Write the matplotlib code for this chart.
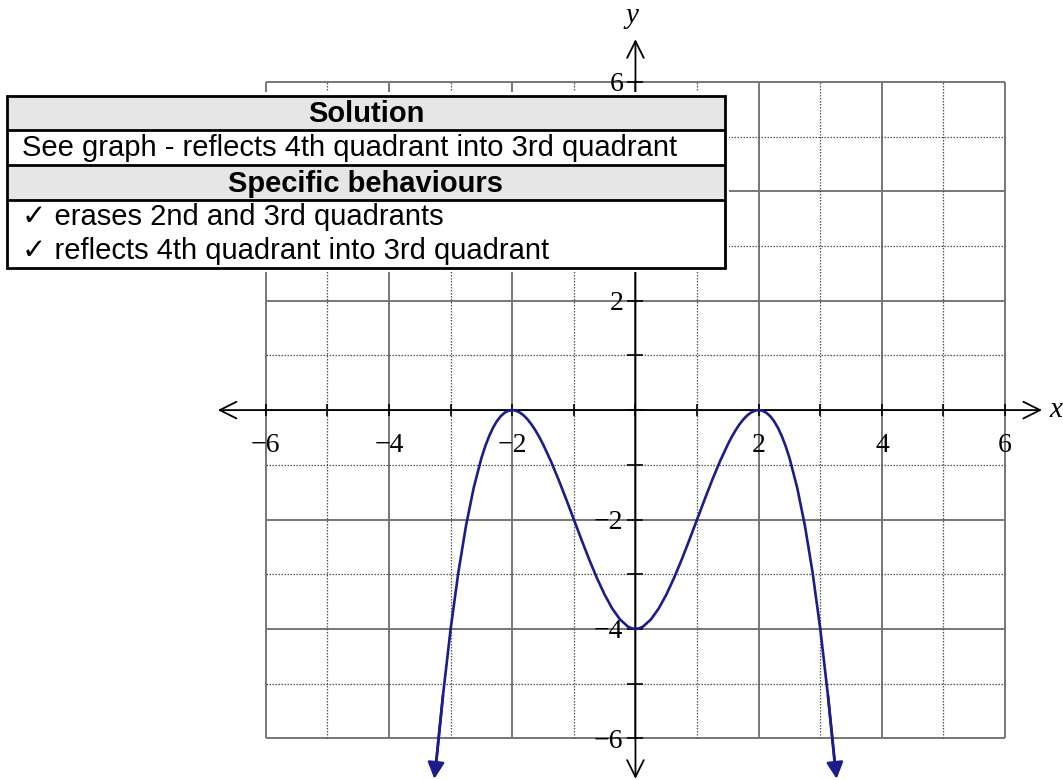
import numpy as np
import matplotlib
matplotlib.use("Agg")
import matplotlib.pyplot as plt
from matplotlib.patches import Rectangle

# Curve for x >= 0 (4th/1st quadrant part); the x < 0 half is its mirror image
curve_x = [0, 0.0625, 0.125, 0.25, 0.375, 0.5, 0.625, 0.75, 0.875, 1.0, 1.125, 1.25,
           1.375, 1.5, 1.5625, 1.625, 1.6875, 1.75, 1.8125, 1.875, 1.9375, 2.0,
           2.0625, 2.125, 2.1875, 2.25, 2.3125, 2.375, 2.4375, 2.5, 2.625, 2.75,
           2.875, 3.0, 3.125, 3.25]
curve_y = [-4.0, -3.989, -3.955, -3.828, -3.631, -3.375, -3.072, -2.734, -2.373,
           -2.0, -1.627, -1.266, -0.928, -0.625, -0.490, -0.369, -0.262, -0.172,
           -0.099, -0.045, -0.012, 0.0, -0.012, -0.049, -0.112, -0.203, -0.323,
           -0.475, -0.658, -0.875, -1.416, -2.109, -2.967, -4.0, -5.221, -6.641]

grid_major = [-6, -4, -2, 0, 2, 4, 6]
grid_minor = [-5, -3, -1, 1, 3, 5]
x_ticklabels = [-6, -4, -2, 2, 4, 6]
y_ticklabels = [6, 2, -2, -4, -6]

table_title = "Solution"
table_answer = "See graph - reflects 4th quadrant into 3rd quadrant"
table_subtitle = "Specific behaviours"
table_marks = ["erases 2nd and 3rd quadrants",
               "reflects 4th quadrant into 3rd quadrant"]

W, H = 1063, 780
fig = plt.figure(figsize=(W / 100, H / 100), dpi=100)
ax = fig.add_axes([0, 0, 1, 1])
ax.set_xlim(-10.315, 6.94)
ax.set_ylim(-6.762, 7.497)
ax.axis("off")

# grid: solid on even units, dotted on odd units
ax.vlines(grid_major, -6, 6, colors="#777777", lw=1.4, zorder=1)
ax.hlines(grid_major, -6, 6, colors="#777777", lw=1.4, zorder=1)
ax.vlines(grid_minor, -6, 6, colors="#505050", lw=0.9, linestyles=(0, (1.2, 1.2)), zorder=1)
ax.hlines(grid_minor, -6, 6, colors="#505050", lw=0.9, linestyles=(0, (1.2, 1.2)), zorder=1)

# axes with open arrowheads
arrow = dict(arrowstyle="<->, head_length=0.6, head_width=0.3", color="black",
             lw=1.3, mutation_scale=20, shrinkA=0, shrinkB=0)
ax.annotate("", xy=(6.6, 0), xytext=(-6.78, 0), arrowprops=arrow, zorder=3)
ax.annotate("", xy=(0, 6.78), xytext=(0, -6.74), arrowprops=arrow, zorder=3)

ticks = np.arange(-6, 7)
ax.vlines(ticks, -0.11, 0.11, colors="black", lw=1.2, zorder=3)
ax.hlines(ticks, -0.13, 0.13, colors="black", lw=1.2, zorder=3)

serif = ["Liberation Serif", "DejaVu Serif"]
for v in x_ticklabels:
    ax.text(v, -0.64, f"{v}".replace("-", "\u2212"), ha="center", va="center",
            fontsize=20, family=serif, zorder=4)
for v in y_ticklabels:
    ax.text(-0.2, v - 0.05, f"{v}".replace("-", "\u2212"), ha="right", va="center",
            fontsize=20, family=serif, zorder=4)
ax.text(6.72, 0, "x", ha="left", va="center", fontsize=21, family=serif,
        style="italic", zorder=4)
ax.text(-0.06, 7.2, "y", ha="center", va="center", fontsize=21, family=serif,
        style="italic", zorder=4)

# the function, right half and its reflection
xr = np.array(curve_x)
yr = np.array(curve_y)
blue = "#1c1c8c"
ax.plot(xr, yr, color=blue, lw=1.9, zorder=5, solid_joinstyle="round")
ax.plot(-xr, yr, color=blue, lw=1.9, zorder=5, solid_joinstyle="round")
head = dict(arrowstyle="-|>, head_length=0.55, head_width=0.28", color=blue,
            lw=1.9, mutation_scale=18, shrinkA=0, shrinkB=0)
ax.annotate("", xy=(xr[-1] + 0.015, yr[-1] - 0.1), xytext=(xr[-2], yr[-2]),
            arrowprops=head, zorder=5)
ax.annotate("", xy=(-xr[-1] - 0.015, yr[-1] - 0.1), xytext=(-xr[-2], yr[-2]),
            arrowprops=head, zorder=5)

# marking table in pixel coordinates
tab = fig.add_axes([0, 0, 1, 1], zorder=10)
tab.set_xlim(0, W)
tab.set_ylim(H, 0)
tab.axis("off")
tab.patch.set_alpha(0)

left, right = 7, 725
rows = [96, 129.5, 164.5, 200, 268]
tab.add_patch(Rectangle((left - 4, rows[0] - 4), right - left + 8, rows[-1] - rows[0] + 8,
                        facecolor="white", edgecolor="none"))
for top, bot in [(rows[0], rows[1]), (rows[2], rows[3])]:
    tab.add_patch(Rectangle((left, top), right - left, bot - top,
                            facecolor="#e6e6e6", edgecolor="none"))
tab.add_patch(Rectangle((left, rows[0]), right - left, rows[-1] - rows[0],
                        facecolor="none", edgecolor="black", lw=2))
tab.hlines(rows[1:4], left, right, colors="black", lw=2)

sans = ["Liberation Sans", "DejaVu Sans"]
cx = (left + right) / 2
tab.text(cx, 114, table_title, ha="center", va="center", fontsize=21,
         fontweight="bold", family=sans)
tab.text(22, 148.5, table_answer, ha="left", va="center", fontsize=21, family=sans)
tab.text(cx, 183.5, table_subtitle, ha="center", va="center", fontsize=21,
         fontweight="bold", family=sans)
for i, mark in enumerate(table_marks):
    tab.text(22, 217 + 34 * i, "\u2713 " + mark, ha="left", va="center",
             fontsize=21, family=sans)

fig.savefig("out.png", dpi=100)
